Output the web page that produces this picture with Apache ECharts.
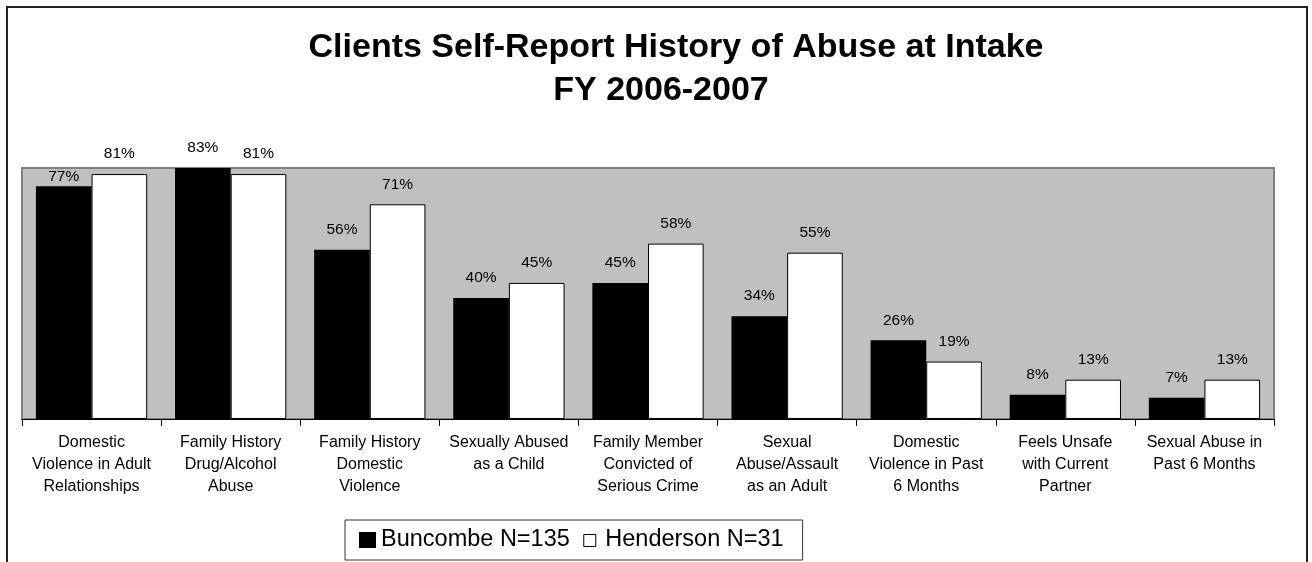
<!DOCTYPE html>
<html>
<head>
<meta charset="utf-8">
<title>Clients Self-Report History of Abuse at Intake</title>
<script src="https://cdn.jsdelivr.net/npm/echarts@6/dist/echarts.min.js"></script>
<style>
  html, body { margin: 0; padding: 0; background: #ffffff; }
  #chart { width: 1312px; height: 562px; }
</style>
</head>
<body>
<div id="chart"></div>
<script>
// Abuse history categories (line breaks as shown under the axis)
const categories = [
  'Domestic\nViolence in Adult\nRelationships',
  'Family History\nDrug/Alcohol\nAbuse',
  'Family History\nDomestic\nViolence',
  'Sexually Abused\nas a Child',
  'Family Member\nConvicted of\nSerious Crime',
  'Sexual\nAbuse/Assault\nas an Adult',
  'Domestic\nViolence in Past\n6 Months',
  'Feels Unsafe\nwith Current\nPartner',
  'Sexual Abuse in\nPast 6 Months'
];

// Percent of clients reporting each item
const buncombe = [77, 83, 56, 40, 45, 34, 26, 8, 7];
const henderson = [81, 81, 71, 45, 58, 55, 19, 13, 13];

const seriesNames = ['Buncombe N=135', 'Henderson N=31'];
const titleLines = ['Clients Self-Report History of Abuse at Intake', 'FY 2006-2007'];

const FONT = '"Liberation Sans", Arial, Helvetica, sans-serif';

const labelStyle = {
  show: true,
  position: 'top',
  distance: 12,
  formatter: '{c}%',
  color: '#000',
  fontFamily: FONT,
  fontSize: 15.5
};

const chart = echarts.init(document.getElementById('chart'), null, { renderer: 'canvas' });

chart.setOption({
  backgroundColor: '#ffffff',
  animation: false,
  title: [
    {
      text: titleLines[0],
      left: 676, top: 31, padding: 0,
      textAlign: 'center', textVerticalAlign: 'top',
      textStyle: { fontFamily: FONT, fontSize: 34, fontWeight: 'bold', color: '#000' }
    },
    {
      text: titleLines[1],
      left: 661, top: 74, padding: 0,
      textAlign: 'center', textVerticalAlign: 'top',
      textStyle: { fontFamily: FONT, fontSize: 34, fontWeight: 'bold', color: '#000' }
    }
  ],
  graphic: [
    {
      // frame around the whole chart
      type: 'rect',
      shape: { x: 7, y: 7, width: 1300, height: 600 },
      style: { fill: 'none', stroke: '#222', lineWidth: 2 },
      silent: true,
      z: 100
    }
  ],
  legend: {
    left: 345,
    top: 520,
    orient: 'horizontal',
    padding: [8, 19, 8, 14],
    itemGap: 13,
    itemWidth: 17,
    itemHeight: 16,
    borderColor: '#333',
    borderWidth: 1,
    backgroundColor: '#fff',
    textStyle: { fontFamily: FONT, fontSize: 23.5, color: '#000' },
    selectedMode: false,
    data: [
      { name: seriesNames[0], icon: 'rect', itemStyle: { color: '#000', borderWidth: 0 } },
      {
        name: seriesNames[1],
        // small hollow square drawn inside a 17x16 box
        icon: 'path://M0,0 M17,16 M0.5,2.5 L12.5,2.5 L12.5,14.5 L0.5,14.5 Z',
        itemStyle: { color: '#fff', borderColor: '#000', borderWidth: 1 }
      }
    ]
  },
  grid: {
    left: 22,
    right: 38,
    top: 168,
    bottom: 143,
    show: true,
    backgroundColor: '#c0c0c0',
    borderColor: '#808080',
    borderWidth: 2,
    containLabel: false
  },
  xAxis: {
    type: 'category',
    data: categories,
    axisLine: { show: true, lineStyle: { color: '#000', width: 1 } },
    axisTick: { show: true, length: 7, alignWithLabel: false, lineStyle: { color: '#000' } },
    axisLabel: {
      interval: 0,
      margin: 13,
      color: '#000',
      fontFamily: FONT,
      fontSize: 16,
      lineHeight: 22,
      align: 'center'
    },
    splitLine: { show: false }
  },
  yAxis: {
    type: 'value',
    min: 0,
    max: 83,
    show: false,
    splitLine: { show: false }
  },
  series: [
    {
      name: seriesNames[0],
      type: 'bar',
      barGap: '0%',
      barCategoryGap: '20%',
      itemStyle: { color: '#000' },
      label: labelStyle,
      data: buncombe.map((v, i) => i === 0 ? { value: v, label: { distance: 1 } } : v)
    },
    {
      name: seriesNames[1],
      type: 'bar',
      barGap: '0%',
      barCategoryGap: '20%',
      itemStyle: { color: '#fff', borderColor: '#000', borderWidth: 1 },
      label: labelStyle,
      data: henderson
    }
  ]
});
</script>
</body>
</html>
